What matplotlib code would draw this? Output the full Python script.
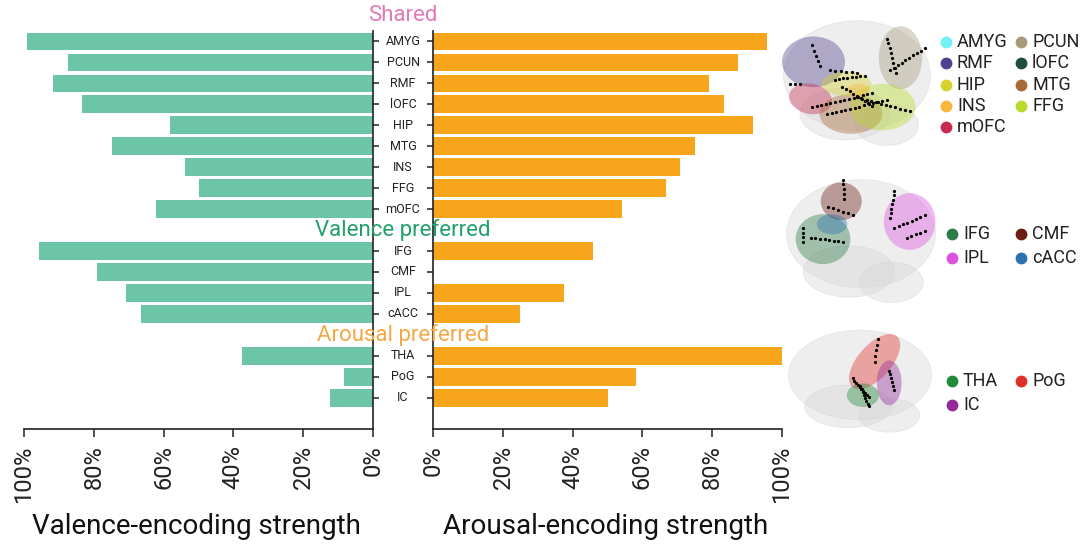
import matplotlib
matplotlib.use("Agg")
import matplotlib.pyplot as plt
import matplotlib.transforms as mtransforms
from matplotlib.patches import Ellipse
import numpy as np

plt.rcParams['font.family'] = ['Roboto', 'DejaVu Sans']

# region groups, top to bottom
shared = ["AMYG", "PCUN", "RMF", "lOFC", "HIP", "MTG", "INS", "FFG", "mOFC"]
valence_pref = ["IFG", "CMF", "IPL", "cACC"]
arousal_pref = ["THA", "PoG", "IC"]

# encoding strength (fraction of max)
valence_shared = [0.99, 0.873, 0.916, 0.833, 0.582, 0.748, 0.540, 0.499, 0.623]
arousal_shared = [0.959, 0.876, 0.791, 0.833, 0.917, 0.750, 0.708, 0.667, 0.542]
valence_vp = [0.956, 0.791, 0.707, 0.665]
arousal_vp = [0.457, 0.0, 0.374, 0.249]
valence_ap = [0.374, 0.082, 0.124]
arousal_ap = [1.0, 0.583, 0.50]

group_titles = ["Shared", "Valence preferred", "Arousal preferred"]
group_colors = ["#e37ab8", "#22a06b", "#f5a845"]

tick_vals = [0, 0.2, 0.4, 0.6, 0.8, 1.0]
tick_labels = ["0%", "20%", "40%", "60%", "80%", "100%"]

# legend entries for the brain panels
legend1 = [("AMYG", "#72f2f2"), ("PCUN", "#a69a7b"), ("RMF", "#4f3f8c"), ("lOFC", "#1f4e3d"),
           ("HIP", "#d6d22b"), ("MTG", "#a66b36"), ("INS", "#f6b73c"), ("FFG", "#badb2b"),
           ("mOFC", "#c82a50")]
legend2 = [("IFG", "#2c7b47"), ("CMF", "#6a1e12"), ("IPL", "#dd52dd"), ("cACC", "#2b73ae")]
legend3 = [("THA", "#228b3b"), ("PoG", "#e0302a"), ("IC", "#932a9c")]

GREEN = "#6cc5a6"
ORANGE = "#f7a61c"
SPINE = "#222222"

W, H = 1080, 544
fig = plt.figure(figsize=(W / 100, H / 100), dpi=100)


def px_axes(x0, y0, x1, y1):
    # axes from pixel box (top-left origin)
    return fig.add_axes([x0 / W, 1 - y1 / H, (x1 - x0) / W, (y1 - y0) / H])


# row positions, one blank row for each group header
names, vals_v, vals_a, pos, header_pos = [], [], [], [], []
row = 0
groups = [(shared, valence_shared, arousal_shared),
          (valence_pref, valence_vp, arousal_vp),
          (arousal_pref, valence_ap, arousal_ap)]
for i, (g, v, a) in enumerate(groups):
    if i > 0:
        header_pos.append(row)
        row += 1
    for n, vv, aa in zip(g, v, a):
        names.append(n)
        vals_v.append(vv)
        vals_a.append(aa)
        pos.append(row)
        row += 1
header_pos = [-1.22] + header_pos

ax_v = px_axes(24, 31, 373, 429.3)
ax_a = px_axes(433.3, 31, 781.7, 429.3)

ax_v.barh(pos, vals_v, height=0.83, color=GREEN)
ax_a.barh(pos, vals_a, height=0.83, color=ORANGE)

for ax in (ax_v, ax_a):
    ax.set_ylim(18.5, -0.49)
    ax.set_xticks(tick_vals)
    ax.set_xticklabels(tick_labels, rotation=90, fontsize=17, color="#222222")
    ax.set_yticks(pos)
    ax.set_yticklabels([])
    ax.spines["top"].set_visible(False)
    ax.tick_params(axis="x", length=5.5, width=1.1, color=SPINE, pad=6)
    ax.tick_params(axis="y", length=4.5, width=1.1, color=SPINE)
    for s in ax.spines.values():
        s.set_linewidth(1.2)
        s.set_color(SPINE)

ax_v.set_xlim(1.0, 0)
ax_v.spines["left"].set_visible(False)
ax_v.yaxis.tick_right()
ax_a.set_xlim(0, 1.0)
ax_a.spines["right"].set_visible(False)

# region names and group headers centered between the two panels
trans = mtransforms.blended_transform_factory(fig.transFigure, ax_v.transData)
for n, p in zip(names, pos):
    fig.text(403 / W, p, n, transform=trans, ha="center", va="center",
             fontsize=9, color="#222222")
for t, c, p in zip(group_titles, group_colors, header_pos):
    fig.text(403 / W, p, t, transform=trans, ha="center", va="center",
             fontsize=16, color=c)

fig.text(196 / W, 1 - 527 / H, "Valence-encoding strength", ha="center", va="center",
         fontsize=20, color="#111111")
fig.text(606 / W, 1 - 527 / H, "Arousal-encoding strength", ha="center", va="center",
         fontsize=20, color="#111111")


# simple brain sketches
def brain(box, regions, shafts):
    ax = px_axes(*box)
    ax.set_xlim(0, 1)
    ax.set_ylim(0, 1)
    ax.axis("off")
    for (cx, cy, w, h) in [(0.5, 0.58, 0.98, 0.8), (0.42, 0.3, 0.6, 0.38), (0.7, 0.22, 0.42, 0.3)]:
        ax.add_patch(Ellipse((cx, cy), w, h, facecolor="#d6d6d6", edgecolor="#cfcfcf",
                             alpha=0.4, lw=0.6))
    for (cx, cy, w, h, ang, col) in regions:
        ax.add_patch(Ellipse((cx, cy), w, h, angle=ang, facecolor=col, edgecolor="none",
                             alpha=0.4))
    for (x0, y0, x1, y1, k) in shafts:
        ax.plot(np.linspace(x0, x1, k), np.linspace(y0, y1, k), ls="none", marker="o",
                ms=1.3, color="black")
    return ax


c1 = dict(legend1)
brain((782, 18, 932, 155),
      [(0.21, 0.68, 0.42, 0.37, 0, c1["RMF"]), (0.19, 0.41, 0.29, 0.22, -15, c1["mOFC"]),
       (0.79, 0.71, 0.29, 0.46, 0, c1["PCUN"]), (0.46, 0.30, 0.42, 0.29, 0, c1["MTG"]),
       (0.67, 0.35, 0.44, 0.34, 0, c1["FFG"]), (0.43, 0.52, 0.33, 0.18, 0, c1["HIP"]),
       (0.51, 0.47, 0.15, 0.10, 0, c1["INS"])],
      [(0.2, 0.35, 0.6, 0.45, 14), (0.3, 0.3, 0.7, 0.4, 14), (0.35, 0.55, 0.55, 0.58, 8),
       (0.72, 0.62, 0.95, 0.78, 10), (0.7, 0.85, 0.76, 0.6, 8), (0.2, 0.8, 0.25, 0.65, 5),
       (0.5, 0.42, 0.85, 0.32, 12), (0.05, 0.52, 0.12, 0.52, 3), (0.4, 0.5, 0.6, 0.36, 9),
       (0.32, 0.62, 0.5, 0.6, 6)])

c2 = dict(legend2)
brain((785, 177, 937, 312),
      [(0.37, 0.82, 0.27, 0.28, 0, c2["CMF"]), (0.25, 0.54, 0.36, 0.37, 0, c2["IFG"]),
       (0.31, 0.65, 0.20, 0.15, 0, c2["cACC"]), (0.82, 0.67, 0.34, 0.42, 0, c2["IPL"])],
      [(0.38, 0.98, 0.39, 0.84, 5), (0.12, 0.62, 0.12, 0.52, 4), (0.17, 0.55, 0.38, 0.52, 8),
       (0.72, 0.9, 0.69, 0.7, 7), (0.72, 0.62, 0.92, 0.72, 8), (0.8, 0.55, 0.92, 0.6, 5),
       (0.28, 0.78, 0.45, 0.72, 6)])

c3 = dict(legend3)
brain((787, 328, 933, 440),
      [(0.60, 0.70, 0.25, 0.55, -30, c3["PoG"]), (0.52, 0.40, 0.22, 0.21, 0, c3["THA"]),
       (0.70, 0.51, 0.17, 0.40, 0, c3["IC"])],
      [(0.45, 0.55, 0.56, 0.38, 10), (0.5, 0.48, 0.56, 0.3, 8), (0.62, 0.9, 0.6, 0.7, 5),
       (0.7, 0.62, 0.73, 0.45, 6)])

# legends for the brain panels
legend_ax = fig.add_axes([0, 0, 1, 1], facecolor="none")
legend_ax.set_xlim(0, W)
legend_ax.set_ylim(H, 0)
legend_ax.axis("off")


def legend(entries, xs, y0, dy):
    for i, (n, c) in enumerate(entries):
        x = xs[i % 2]
        y = y0 + (i // 2) * dy
        legend_ax.plot(x, y, "o", ms=7.5, color=c)
        legend_ax.text(x + 11, y, n, ha="left", va="center", fontsize=13, color="#222222")


legend(legend1, (946, 1021), 42.3, 21.1)
legend(legend2, (952, 1021), 234.3, 23.4)
legend(legend3, (952, 1021), 381, 24)

fig.savefig("out.png", dpi=100)
